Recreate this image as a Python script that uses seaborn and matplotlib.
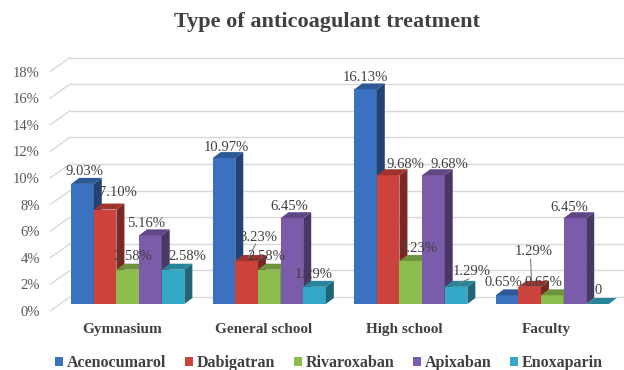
import numpy as np
import pandas as pd
import seaborn as sns
import matplotlib
matplotlib.use("Agg")
import matplotlib.pyplot as plt
from matplotlib.patches import Polygon, Patch
from matplotlib.transforms import ScaledTranslation
from matplotlib.colors import to_rgb

# ---- data -------------------------------------------------------------
levels = ["Gymnasium", "General school", "High school", "Faculty"]
drugs = ["Acenocumarol", "Dabigatran", "Rivaroxaban", "Apixaban", "Enoxaparin"]
acenocumarol = [9.03, 10.97, 16.13, 0.65]
dabigatran = [7.10, 3.23, 9.68, 1.29]
rivaroxaban = [2.58, 2.58, 3.23, 0.65]
apixaban = [5.16, 6.45, 9.68, 6.45]
enoxaparin = [2.58, 1.29, 1.29, 0.0]
y_ticks = [0, 2, 4, 6, 8, 10, 12, 14, 16, 18]
y_tick_labels = [f"{t}%" for t in y_ticks]

series = [acenocumarol, dabigatran, rivaroxaban, apixaban, enoxaparin]
df = pd.DataFrame(
    [(lvl, drug, vals[k]) for drug, vals in zip(drugs, series) for k, lvl in enumerate(levels)],
    columns=["level", "drug", "value"],
)

# ---- style ------------------------------------------------------------
colors = ["#3b72c0", "#cc423d", "#8dbd4e", "#7a5caa", "#33a9c7"]
sns.set_theme(style="white")
plt.rcParams["font.family"] = ["Liberation Serif", "DejaVu Serif"]
text_dark = "#404040"
grid_col = "#d9d9d9"

# label nudges (px right, px above bar top) per level, per drug
label_nudge_px = [
    [(2, 12), (13, 17), (6, 13), (-4, 12), (14, 13)],
    [(2, 11), (12, 24), (-3, 13), (-3, 12), (-1, 12)],
    [(0, 12), (17, 11), (7, 13), (16, 11), (16, 15)],
    [(-4, 13), (4, 35), (-9, 13), (-6, 11), (1, 14)],
]
leaders = {(1, 1), (2, 4), (3, 1)}

W, H = 624, 370
fig = plt.figure(figsize=(W / 100, H / 100), dpi=100)
ax_l, ax_b, ax_w, ax_h = 57, 66, 566, 239.4
ax = fig.add_axes([ax_l / W, ax_b / H, ax_w / W, ax_h / H])

sns.barplot(data=df, x="level", y="value", hue="drug", order=levels,
            hue_order=drugs, palette=colors, width=0.8, dodge=True,
            saturation=1, legend=False, ax=ax, linewidth=0, edgecolor="none")

xmin, xmax, ymin, ymax = -0.5, 3.5, 0, 18
ax.set_xlim(xmin, xmax)
ax.set_ylim(ymin, ymax)
ux = (xmax - xmin) / ax_w
uy = (ymax - ymin) / ax_h

for s in ax.spines.values():
    s.set_visible(False)
ax.grid(False)

# back-wall gridlines with a slanted floor edge on the left
for t in y_ticks:
    ax.plot([xmin - 7 * ux, xmin + 13 * ux], [t - 7 * uy, t + 7 * uy],
            color=grid_col, lw=1.0, clip_on=False, zorder=0.5)
    ax.plot([xmin + 13 * ux, xmax + 1 * ux], [t + 7 * uy, t + 7 * uy],
            color=grid_col, lw=1.0, clip_on=False, zorder=0.5)

# 3D faces for each bar
def shade(c, f):
    r, g, b = to_rgb(c)
    return (r * f, g * f, b * f)

dx, dy = 8 * ux, 6 * uy
bars = sorted([p for p in ax.patches], key=lambda p: p.get_x())
for i, p in enumerate(bars):
    x0, w, h = p.get_x(), p.get_width(), p.get_height()
    fc = p.get_facecolor()
    z = 2 + 3 * i
    p.set_zorder(z)
    side = Polygon([(x0 + w, 0), (x0 + w + dx, dy), (x0 + w + dx, h + dy), (x0 + w, h)],
                   closed=True, facecolor=shade(fc, 0.6), edgecolor="none", zorder=z + 1)
    top = Polygon([(x0, h), (x0 + w, h), (x0 + w + dx, h + dy), (x0 + dx, h + dy)],
                  closed=True, facecolor=shade(fc, 0.78), edgecolor="none", zorder=z + 1)
    ax.add_patch(side)
    ax.add_patch(top)

# value labels
for j, vals in enumerate(series):
    for k, v in enumerate(vals):
        cx = k + (j - 2) * 0.16
        ndx, ndy = label_nudge_px[k][j]
        lx, ly = cx + ndx * ux, v + ndy * uy
        txt = "0" if v == 0 else f"{v:.2f}%"
        ax.text(lx, ly, txt, ha="center", va="center", fontsize=10.5,
                color=text_dark, zorder=200)
        if (k, j) in leaders:
            ax.plot([cx + 2 * ux, lx - 3 * ux], [v + 3 * uy, ly - 7 * uy],
                    color="#7f7f7f", lw=0.8, zorder=199)

# axes ticks
ax.set_yticks(y_ticks)
ax.set_yticklabels(y_tick_labels)
ax.tick_params(axis="y", length=0, pad=12.2, labelsize=10.5, labelcolor="#595959")
for lab in ax.get_yticklabels():
    lab.set_transform(lab.get_transform() + ScaledTranslation(0, -7 / 100, fig.dpi_scale_trans))

ax.set_xticks(range(len(levels)))
ax.set_xticklabels(levels, fontweight="bold")
ax.tick_params(axis="x", length=0, pad=13.5, labelsize=11, labelcolor=text_dark)
for lab in ax.get_xticklabels():
    lab.set_transform(lab.get_transform() + ScaledTranslation(-6 / 100, 0, fig.dpi_scale_trans))
ax.set_xlabel("")
ax.set_ylabel("")

fig.text(327 / W, 1 - 22 / H, "Type of anticoagulant treatment", ha="center",
         va="center", fontsize=16, fontweight="bold", color=text_dark)

handles = [Patch(facecolor=c, edgecolor="none") for c in colors]
fig.legend(handles=handles, labels=drugs, loc="center",
           bbox_to_anchor=(329 / W, 1 - 363 / H), ncol=5, frameon=False,
           handlelength=0.5, handleheight=0.5, handletextpad=0.25,
           columnspacing=1.15, prop={"weight": "bold", "size": 11.5},
           labelcolor=text_dark)

fig.savefig("out.png", dpi=100, facecolor="white")
